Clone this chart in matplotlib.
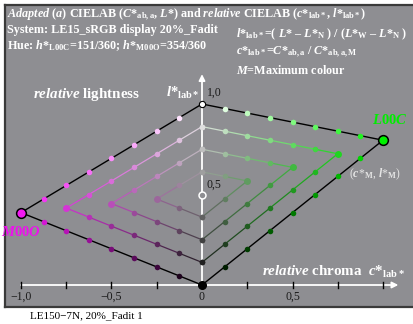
import matplotlib.pyplot as plt
import numpy as np

plt.rcParams['font.family'] = 'Liberation Serif'
plt.rcParams['mathtext.fontset'] = 'custom'
plt.rcParams['mathtext.rm'] = 'Liberation Serif:bold'
plt.rcParams['mathtext.it'] = 'Liberation Serif:italic:bold'
plt.rcParams['mathtext.bf'] = 'Liberation Serif:bold'

# 8 equal steps between white, black and the maximum colour
n_steps = 8
# maximum colours of the two hues: relative chroma / lightness, colour
hue_names = ['L00C', 'M00O']
hue_chroma = [1.0, -1.0]
hue_light = [0.80, 0.40]
hue_rgb = [(0.0, 0.95, 0.0), (0.95, 0.1, 0.95)]
hue_text_color = ['#00ee00', '#ee10ee']

tick_values = [-1.0, -0.75, -0.5, -0.25, 0.0, 0.25, 0.5, 0.75, 1.0]
tick_labels = ['−1,0', '', '−0,5', '', '0', '', '0,5', '', '']

bg = '#8e8e92'

fig = plt.figure(figsize=(4.13, 3.24), dpi=100)
ax = fig.add_axes([5 / 413, 17 / 324, 408 / 413, 302 / 324])
ax.set_facecolor(bg)
# 181 px per unit, origin at pixel (202, 285)
ax.set_xlim((5 - 202) / 181, (413 - 202) / 181)
ax.set_ylim((285 - 307) / 181, (285 - 5) / 181)
ax.set_xticks([])
ax.set_yticks([])
for s in ['left', 'top', 'bottom']:
    ax.spines[s].set_color('#3a3a3a')
    ax.spines[s].set_linewidth(1.6)
ax.spines['right'].set_visible(False)


def mix(a, b, rgb):
    return tuple(min(1.0, a + b * v) for v in rgb)


# chevrons: constant blackness (upper arm) and constant whiteness (lower arm)
for sign, lm, rgb in zip(hue_chroma, hue_light, hue_rgb):
    for k in range(4):
        pts = []
        for j in range(0, n_steps - 2 * k + 1):
            b = j / n_steps
            pts.append((1 - k / n_steps - b, b))
        for j in range(n_steps - 2 * k - 1, -1, -1):
            b = j / n_steps
            pts.append((k / n_steps, b))
        xs = [sign * b for a, b in pts]
        ys = [a + b * lm for a, b in pts]
        cols = [mix(a, b, rgb) for a, b in pts]
        for i in range(len(pts) - 1):
            if k == 0:
                lc = 'black'
            else:
                c0, c1 = np.array(cols[i]), np.array(cols[i + 1])
                lc = tuple((c0 + c1) / 2)
            ax.plot(xs[i:i + 2], ys[i:i + 2], color=lc, lw=1.0 if k == 0 else 0.9,
                    zorder=2, solid_capstyle='round')
        vert = n_steps - 2 * k
        for i in range(len(pts)):
            ms = 5.0 if i == vert else 4.0
            ax.plot(xs[i], ys[i], 'o', color=cols[i], ms=ms, mec='none', zorder=3)

# axes arrows
ax.annotate('', xy=(1.085, 0), xytext=(-1.0, 0),
            arrowprops=dict(arrowstyle='-|>', color='white', lw=1.3,
                            mutation_scale=9, shrinkA=0, shrinkB=0), zorder=1)
ax.annotate('', xy=(0, 1.165), xytext=(0, 0),
            arrowprops=dict(arrowstyle='-|>', color='white', lw=1.3,
                            mutation_scale=9, shrinkA=0, shrinkB=0), zorder=1)
for tv, tl in zip(tick_values, tick_labels):
    ax.plot([tv, tv], [-0.016, 0.016], color='black', lw=1.0, zorder=1.5)
    if tl:
        ax.text(tv, -0.065, tl, ha='center', va='center', fontsize=8.5, color='#1a1a1a')

# special points
for sign, lm, rgb in zip(hue_chroma, hue_light, hue_rgb):
    ax.plot(sign, lm, 'o', color=rgb, ms=7, mec='black', mew=1.1, zorder=4)
ax.plot(0, 1.0, 'o', color='white', ms=4.5, mec='black', mew=0.8, zorder=4)
ax.plot(0, 0, 'o', color='black', ms=5.5, zorder=4)
ax.plot(0, 0.5, 'o', color=bg, ms=5, mec='white', mew=1.1, zorder=4)
ax.text(0.025, 1.03, '1,0', fontsize=8.5, color='#1a1a1a', ha='left', va='bottom')
ax.text(0.025, 0.52, '0,5', fontsize=8.5, color='#1a1a1a', ha='left', va='bottom')

# labels inside the plot
ax.text(0.94, 0.91, r'$\mathit{L00C}$', color=hue_text_color[0], fontsize=10.5,
        ha='left', va='center')
fig.text(1 / 413, 1 - 232 / 324, r'$\mathit{M00O}$', color=hue_text_color[1], fontsize=10.5,
         ha='left', va='center')
ax.text(0.81, 0.61, r'($\mathit{c}$*$_{\mathrm{M}}$, $\mathit{l}$*$_{\mathrm{M}}$)',
        color='#e6e6e6', fontsize=8.5, ha='left', va='center')
ax.text(-0.934, 1.05, r'$\mathit{relative}$ lightness', color='white', fontsize=10.8,
        fontweight='bold', ha='left', va='center')
ax.text(-0.199, 1.06, r'$\mathit{l}$*$_{\mathrm{lab*}}$', color='white', fontsize=10.5,
        fontweight='bold', ha='left', va='center')
ax.text(0.33, 0.072, r'$\mathit{relative}$ chroma  $\mathit{c}$*$_{\mathrm{lab*}}$',
        color='white', fontsize=10.8, fontweight='bold', ha='left', va='center')

# header
hdr = dict(color='white', fontsize=8.7, fontweight='bold', ha='left', va='center')
fig.text(7 / 413, 1 - 15 / 324,
         r'$\mathit{Adapted\ (a)}$ CIELAB ($\mathit{C}$*$_{\mathrm{ab,a}}$, $\mathit{L}$*) and '
         r'$\mathit{relative}$ CIELAB ($\mathit{c}$*$_{\mathrm{lab*}}$, $\mathit{l}$*$_{\mathrm{lab*}}$)',
         **hdr)
fig.text(7 / 413, 1 - 30 / 324, 'System: LE15_sRGB display 20%_Fadit', **hdr)
fig.text(7 / 413, 1 - 46 / 324,
         r'Hue: $\mathit{h}$*$_{\mathrm{L00C}}$=151/360; $\mathit{h}$*$_{\mathrm{M00O}}$=354/360',
         **hdr)
fig.text(236 / 413, 1 - 34 / 324,
         r'$\mathit{l}$*$_{\mathrm{lab*}}$=( $\mathit{L}$* – $\mathit{L}$*$_{\mathrm{N}}$ ) / '
         r'($\mathit{L}$*$_{\mathrm{W}}$ – $\mathit{L}$*$_{\mathrm{N}}$ )', **hdr)
fig.text(236 / 413, 1 - 52 / 324,
         r'$\mathit{c}$*$_{\mathrm{lab*}}$=$\mathit{C}$*$_{\mathrm{ab,a}}$ / $\mathit{C}$*$_{\mathrm{ab,a,M}}$',
         **hdr)
fig.text(236 / 413, 1 - 70 / 324, r'$\mathit{M}$=Maximum colour', **hdr)

fig.text(30 / 413, 1 - 316 / 324, 'LE150−7N, 20%_Fadit 1', fontsize=8, color='black',
         ha='left', va='center')

fig.savefig('out.png', dpi=100)
